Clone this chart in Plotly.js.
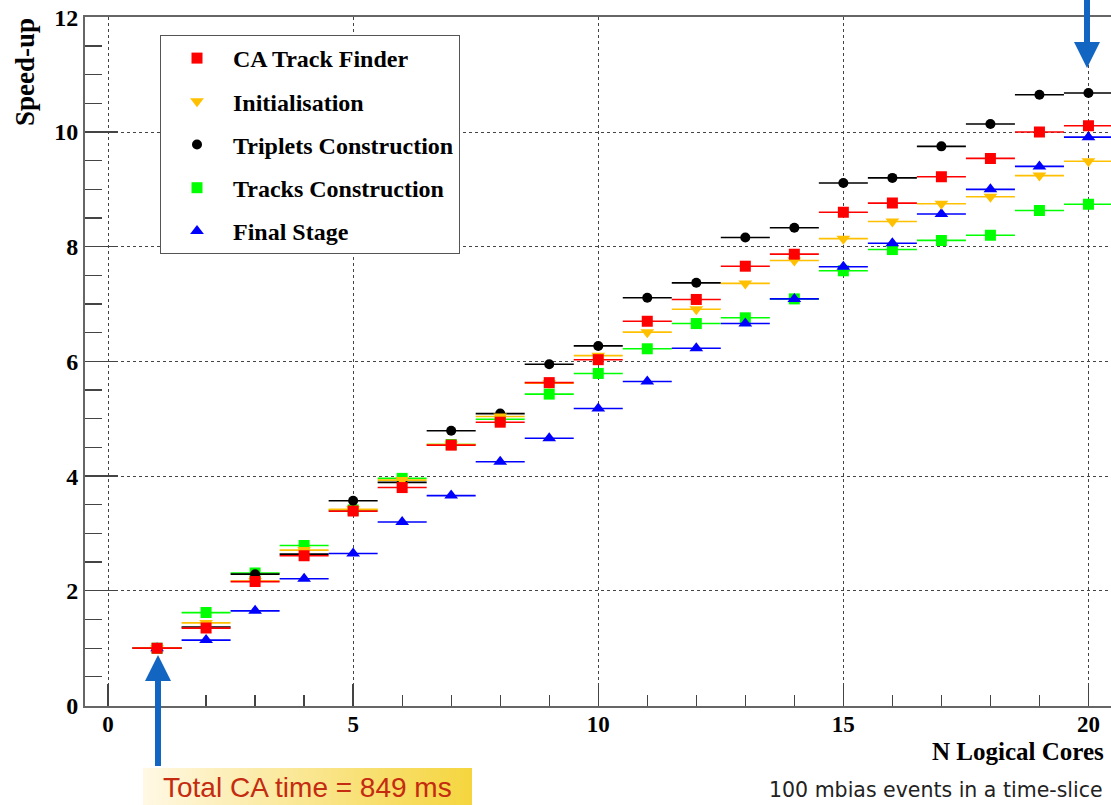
<!DOCTYPE html>
<html>
<head>
<meta charset="utf-8">
<script src="https://cdn.plot.ly/plotly-3.0.1.min.js"></script>
<style>html,body{margin:0;padding:0;background:#fff;}#chart{width:1111px;height:805px;}</style>
</head>
<body>
<div id="chart"></div>
<script>
// ---- data ----
const cores = [1,2,3,4,5,6,7,8,9,10,11,12,13,14,15,16,17,18,19,20];
const caTrackFinder   = [1.00,1.35,2.16,2.61,3.39,3.80,4.54,4.94,5.63,6.03,6.70,7.08,7.66,7.87,8.60,8.76,9.22,9.54,10.00,10.11];
const initialisation  = [1.00,1.44,2.17,2.71,3.42,3.93,4.55,5.04,5.62,6.10,6.51,6.91,7.36,7.76,8.14,8.44,8.75,8.87,9.24,9.49];
const tripletsConstr  = [1.00,1.37,2.29,2.64,3.57,3.89,4.79,5.09,5.95,6.27,7.11,7.37,8.16,8.33,9.11,9.20,9.75,10.14,10.65,10.68];
const tracksConstr    = [1.00,1.62,2.31,2.79,3.41,3.96,4.55,4.99,5.43,5.79,6.22,6.66,6.76,7.09,7.58,7.95,8.11,8.20,8.63,8.74];
const finalStage      = [1.00,1.14,1.65,2.21,2.65,3.20,3.66,4.25,4.66,5.18,5.65,6.23,6.66,7.09,7.65,8.06,8.57,9.00,9.40,9.91];
const seriesNames = ["CA Track Finder","Initialisation","Triplets Construction","Tracks Construction","Final Stage"];
const binHalfWidth = 0.5;
const xTitle = "N Logical Cores";
const yTitle = "Speed-up";
const noteBox = "Total CA time = 849 ms";
const noteText = "100 mbias events in a time-slice";

// ---- styles ----
const W = 1111, H = 805;
const serifBold = {family: "Liberation Serif, Times New Roman, serif", weight: "bold", color: "#000"};

function series(name, y, color, symbol, size, rank) {
  return {
    type: "scatter", mode: "markers", name: name, x: cores, y: y,
    xaxis: "x", yaxis: "y",
    marker: {color: color, symbol: symbol, size: size, line: {width: 0}},
    error_x: {type: "constant", value: binHalfWidth, width: 0, thickness: 1.6, color: color},
    legendrank: rank, legendgroup: "g" + rank, showlegend: true
  };
}

// draw order (bottom -> top) chosen to reproduce the overlaps
const traces = [
  series(seriesNames[3], tracksConstr,   "#00FF00", "square",        11, 4),
  series(seriesNames[4], finalStage,     "#0000FF", "triangle-up",   12, 5),
  series(seriesNames[2], tripletsConstr, "#000000", "circle",        10, 3),
  series(seriesNames[1], initialisation, "#FFC000", "triangle-down", 12, 2),
  series(seriesNames[0], caTrackFinder,  "#FF0000", "square",        11, 1)
];

// gradient note box (pixel overlay axes)
traces.push({
  type: "scatter", mode: "none", xaxis: "x2", yaxis: "y2", showlegend: false, hoverinfo: "skip",
  x: [143, 472, 472, 143, 143], y: [768, 768, 810, 810, 768],
  fill: "toself",
  fillgradient: {type: "horizontal", colorscale: [[0, "#FFF8E4"], [1, "#F5D53E"]]}
});

const arrowColor = "#1266C2";
const shapes = [
  // bottom arrow (pointing up at x = 1)
  {type: "path", xref: "x2", yref: "y2", path: "M155,680 L161,680 L161,766 L155,766 Z", fillcolor: arrowColor, line: {width: 0}},
  {type: "path", xref: "x2", yref: "y2", path: "M145,681 L158,655 L171,681 Z", fillcolor: arrowColor, line: {width: 0}},
  // top-right arrow (pointing down at x = 20)
  {type: "path", xref: "x2", yref: "y2", path: "M1084,0 L1090,0 L1090,43 L1084,43 Z", fillcolor: arrowColor, line: {width: 0}},
  {type: "path", xref: "x2", yref: "y2", path: "M1074,42 L1087,68 L1100,42 Z", fillcolor: arrowColor, line: {width: 0}}
];

const annotations = [
  {xref: "x2", yref: "y2", x: 25, y: 72, text: yTitle, textangle: -90, showarrow: false,
   font: Object.assign({size: 27}, serifBold), xanchor: "center", yanchor: "middle"},
  {xref: "x2", yref: "y2", x: 1106, y: 751, text: xTitle, showarrow: false,
   font: Object.assign({size: 25}, serifBold), xanchor: "right", yanchor: "middle"},
  {xref: "x2", yref: "y2", x: 307, y: 787, text: noteBox, showarrow: false,
   font: {family: "Liberation Sans, Arial, sans-serif", size: 28, color: "#C42B10"}, xanchor: "center", yanchor: "middle"},
  {xref: "x2", yref: "y2", x: 1105, y: 790, text: noteText, showarrow: false,
   font: {family: "DejaVu Sans, sans-serif", size: 20.5, color: "#222"}, xanchor: "right", yanchor: "middle"}
];

const layout = {
  width: W, height: H,
  margin: {l: 0, r: 0, t: 0, b: 0, pad: 0},
  paper_bgcolor: "#fff", plot_bgcolor: "rgba(0,0,0,0)",
  showlegend: true,
  xaxis: {
    domain: [85 / W, 1], range: [-0.47, 20.46], anchor: "y",
    tick0: 0, dtick: 5, ticks: "inside", ticklen: 22, tickwidth: 1.3, tickcolor: "#444",
    minor: {dtick: 1, ticks: "inside", ticklen: 11, tickwidth: 1.3, tickcolor: "#444", showgrid: false},
    showgrid: true, gridcolor: "#444", griddash: "dot", gridwidth: 1,
    showline: true, linecolor: "#666", linewidth: 2, mirror: true, zeroline: false,
    ticklabelstandoff: -3,
    tickfont: Object.assign({size: 23}, serifBold), fixedrange: true
  },
  yaxis: {
    domain: [(H - 705.5) / H, (H - 17.3) / H], range: [0, 12], anchor: "x",
    tick0: 0, dtick: 2, ticks: "inside", ticklen: 33, tickwidth: 1.3, tickcolor: "#444",
    minor: {dtick: 0.5, ticks: "inside", ticklen: 17, tickwidth: 1.3, tickcolor: "#444", showgrid: false},
    showgrid: true, gridcolor: "#444", griddash: "dot", gridwidth: 1,
    showline: true, linecolor: "#666", linewidth: 2, zeroline: false,
    tickfont: Object.assign({size: 24}, serifBold), fixedrange: true
  },
  xaxis2: {domain: [0, 1], range: [0, W], anchor: "y2", visible: false, fixedrange: true},
  yaxis2: {domain: [0, 1], range: [H, 0], anchor: "x2", visible: false, fixedrange: true},
  legend: {
    x: 160 / W, y: 1 - 35 / H, xanchor: "left", yanchor: "top",
    bgcolor: "#fff", bordercolor: "#555", borderwidth: 1,
    font: Object.assign({size: 24}, serifBold),
    tracegroupgap: 9, traceorder: "grouped", itemwidth: 62
  },
  shapes: shapes,
  annotations: annotations
};

Plotly.newPlot("chart", traces, layout, {displayModeBar: false, staticPlot: true});
</script>
</body>
</html>
